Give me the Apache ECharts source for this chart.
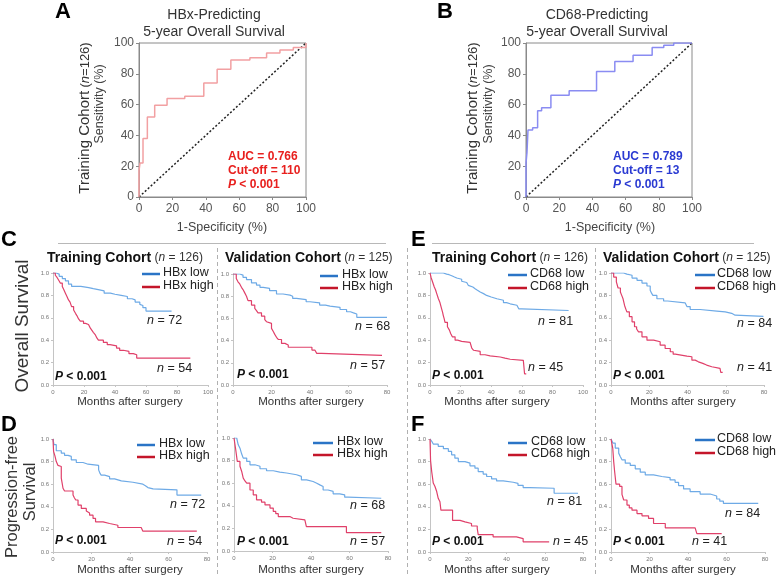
<!DOCTYPE html>
<html><head><meta charset="utf-8">
<script src="https://cdn.jsdelivr.net/npm/echarts@6/dist/echarts.min.js"></script>
<style>html,body{margin:0;padding:0;background:#fff}#c{width:777px;height:578px}</style>
</head><body><div id="c"></div>
<script>
// ---------- DATA ----------
const rocTicks = [0, 20, 40, 60, 80, 100];
const kmYTicks = [0, 0.2, 0.4, 0.6, 0.8, 1.0];
// ROC curves [1-specificity %, sensitivity %]
const rocHBx = [[0,0],[0,17],[0.6,22],[2.4,38],[5,52],[9.4,59.5],[16.8,64],[27.4,65.5],[38.8,74],[46.8,83],[55,89],[66.4,90.5],[76.4,93.5],[84.4,95.5],[92.4,97],[100,100]];
const rocCD68 = [[0,0],[0,22],[0.6,29],[1.2,43.5],[4,45],[7,56],[9.4,58],[15,66],[26,69],[42.5,81.5],[53.5,88],[64.5,92],[76,97],[83,98.5],[89,100],[100,100]];
const rocDiag = [[0,0],[100,100]];
// Kaplan-Meier curves [months, survival]
const osHBxTrainLow = [[0,1],[2,0.99],[4,0.97],[6,0.95],[8,0.93],[10,0.9],[12,0.88],[18,0.87],[23,0.86],[26,0.85],[30,0.84],[33,0.82],[37,0.81],[40,0.8],[44,0.79],[48,0.77],[51,0.76],[53,0.74],[56,0.72],[57,0.71],[58,0.69],[60,0.66],[76.5,0.66]];
const osHBxTrainHigh = [[0,1],[1.5,0.98],[2.6,0.96],[3.5,0.94],[4.7,0.91],[6,0.88],[7,0.85],[8,0.82],[9,0.79],[10,0.76],[11,0.74],[12,0.7],[13.3,0.67],[14.5,0.64],[15.4,0.62],[16.5,0.59],[17.6,0.57],[19.7,0.55],[21,0.54],[22.9,0.53],[24,0.51],[25,0.49],[26,0.47],[27.2,0.45],[28.3,0.42],[29.3,0.4],[32.5,0.38],[35,0.36],[36.8,0.35],[41,0.33],[43,0.31],[45.4,0.3],[49,0.28],[51.8,0.27],[54,0.24],[88.6,0.24]];
const osHBxValidLow = [[0,1],[3.5,0.99],[5.2,0.97],[7,0.95],[9.6,0.92],[12.2,0.9],[14,0.88],[15.7,0.87],[19,0.85],[22.6,0.82],[26,0.81],[29.6,0.8],[31,0.78],[33,0.77],[38,0.75],[40,0.74],[45,0.72],[48,0.71],[50.4,0.7],[55.6,0.68],[59,0.66],[61,0.65],[62.6,0.64],[64.3,0.61],[80,0.61]];
const osHBxValidHigh = [[0,1],[1.7,0.96],[2.6,0.93],[3.5,0.91],[4.4,0.88],[5.2,0.86],[6.1,0.83],[7,0.8],[7.8,0.76],[9.6,0.72],[11.3,0.69],[12.2,0.67],[13,0.65],[14.8,0.62],[16.5,0.59],[17.4,0.57],[18.3,0.555],[20,0.51],[21,0.48],[21.7,0.456],[22.6,0.43],[23.5,0.41],[25.2,0.375],[27,0.36],[28.7,0.34],[41,0.315],[42.5,0.3],[43.5,0.285],[46,0.267],[77.4,0.267]];
const osCDTrainLow = [[0,1],[8.7,0.99],[10.9,0.985],[12.5,0.975],[14.2,0.964],[16,0.955],[17.5,0.944],[20.7,0.926],[22,0.915],[24,0.905],[25,0.89],[26.2,0.875],[28,0.86],[29.5,0.846],[31,0.83],[32.8,0.816],[35,0.8],[37,0.786],[40,0.77],[43.7,0.757],[48,0.736],[50,0.725],[52.4,0.712],[56.8,0.697],[58,0.68],[60,0.665],[90.6,0.665]];
const osCDTrainHigh = [[0,1],[0.7,0.96],[1.7,0.92],[2.8,0.875],[3.6,0.85],[4.4,0.816],[5.5,0.77],[6.5,0.736],[7.6,0.68],[8.2,0.65],[8.7,0.62],[9.3,0.59],[9.8,0.56],[11.4,0.52],[12.7,0.49],[13.5,0.46],[14.6,0.43],[16.4,0.4],[18,0.39],[20.7,0.38],[26.2,0.37],[27.3,0.33],[28.5,0.31],[29.5,0.3],[32.8,0.27],[36,0.26],[39.3,0.25],[45.9,0.24],[49,0.23],[52.4,0.22],[61,0.21],[61.8,0.1],[62.9,0.1]];
const osCDValidLow = [[0,1],[6.6,0.99],[8.3,0.98],[11,0.955],[13.6,0.935],[16.2,0.91],[18.8,0.884],[20.5,0.846],[21.2,0.82],[21.9,0.8],[24,0.77],[27.5,0.75],[29.6,0.733],[38.8,0.72],[39.7,0.7],[41.4,0.674],[46.6,0.66],[55.3,0.653],[59.7,0.64],[63.1,0.623],[64.9,0.612],[79.7,0.612]];
const osCDValidHigh = [[0,1],[1.4,0.964],[2.8,0.92],[3.7,0.866],[4.9,0.83],[5.6,0.8],[6.3,0.77],[7.1,0.71],[7.7,0.68],[8.3,0.653],[9.6,0.61],[11,0.564],[12.3,0.52],[13.4,0.5],[14.4,0.475],[16.2,0.43],[18.8,0.4],[22.3,0.386],[25.7,0.356],[28.3,0.326],[31,0.297],[32.5,0.275],[33.6,0.258],[39.7,0.252],[42.3,0.222],[44,0.207],[45.7,0.193],[48,0.178],[50,0.163],[52.7,0.148],[57,0.142],[57.4,0.113],[58.4,0.113]];
const pfsHBxTrainLow = [[0,1],[0.5,0.95],[1.7,0.896],[4.3,0.875],[6,0.855],[7.8,0.846],[9.5,0.816],[12.1,0.792],[15.6,0.777],[18.2,0.766],[23.7,0.727],[24.3,0.7],[25,0.68],[26.8,0.667],[29.4,0.647],[32,0.63],[35.5,0.617],[41.5,0.6],[46.7,0.587],[48,0.57],[49.3,0.558],[52,0.55],[64.4,0.504],[77,0.504]];
const pfsHBxTrainHigh = [[0,1],[0.3,0.89],[1,0.85],[1.7,0.8],[2.6,0.766],[3.5,0.757],[4.3,0.653],[5.2,0.564],[6,0.54],[10.4,0.504],[11.1,0.48],[11.8,0.46],[13,0.415],[14.7,0.386],[17.3,0.362],[18.2,0.345],[19,0.326],[20.8,0.297],[22.1,0.267],[26,0.252],[29.4,0.237],[33.7,0.217],[45.8,0.208],[46.7,0.184],[74.7,0.184]];
const pfsHBxValidLow = [[0,1],[1.4,0.985],[2.2,0.94],[3.1,0.91],[4,0.858],[4.8,0.822],[6.6,0.793],[8.3,0.763],[10.9,0.75],[13.5,0.728],[16.9,0.71],[20.4,0.698],[23.8,0.69],[27.3,0.675],[32.5,0.66],[35,0.63],[37.7,0.615],[41.1,0.6],[43,0.585],[44.6,0.57],[46.3,0.54],[48.9,0.527],[51.5,0.506],[54.9,0.497],[57.5,0.476],[59.2,0.467],[76.5,0.467]];
const pfsHBxValidHigh = [[0,1],[0.9,0.896],[1.7,0.793],[3.1,0.75],[4,0.704],[4.8,0.645],[5.7,0.62],[6.6,0.6],[8.3,0.54],[10,0.497],[11.7,0.453],[14.3,0.432],[16.1,0.408],[18.7,0.38],[20.4,0.35],[21.7,0.33],[23,0.305],[29,0.29],[30.7,0.275],[36.8,0.26],[37.6,0.216],[58.4,0.163],[76.5,0.163]];
const pfsCDTrainLow = [[0,1],[0.9,0.98],[1.7,0.955],[4.3,0.935],[7,0.914],[9.6,0.89],[11.3,0.86],[13,0.83],[14.8,0.8],[18.3,0.786],[20.9,0.763],[23.5,0.742],[25.2,0.712],[27.8,0.69],[29.6,0.668],[32.2,0.647],[34.8,0.629],[38.3,0.617],[43.5,0.608],[46,0.59],[48.7,0.57],[52.2,0.564],[64.9,0.52],[77.4,0.52]];
const pfsCDTrainHigh = [[0,1],[0.3,0.81],[0.9,0.71],[1.7,0.61],[2.6,0.58],[3.5,0.535],[4.3,0.475],[5.2,0.445],[5.7,0.37],[11.8,0.28],[15.7,0.267],[18.3,0.252],[21.7,0.23],[24.7,0.208],[25.2,0.154],[33,0.134],[45.2,0.119],[48.7,0.09],[62.3,0.09]];
const pfsCDValidLow = [[0,1],[1,0.964],[2.2,0.92],[4,0.875],[4.8,0.846],[5.7,0.816],[7.4,0.786],[10,0.766],[12.6,0.736],[15.2,0.706],[17.8,0.682],[22.1,0.668],[26.4,0.659],[30.7,0.638],[33.3,0.617],[35.1,0.588],[37.7,0.558],[41.1,0.534],[46.3,0.513],[51.5,0.496],[54.9,0.469],[56.5,0.45],[58.4,0.43],[76.5,0.43]];
const pfsCDValidHigh = [[0,1],[0.9,0.92],[1.4,0.8],[1.9,0.71],[2.6,0.6],[4.5,0.58],[5.7,0.51],[6.6,0.46],[8.3,0.415],[9.5,0.39],[10.9,0.37],[13.5,0.34],[16.1,0.32],[19.5,0.297],[22.1,0.252],[28.2,0.214],[43.7,0.2],[44.6,0.163],[57.5,0.163]];

// ---------- LAYOUT ----------
const FONT = '"Liberation Sans", Arial, Helvetica, sans-serif';
const KM_BLUE = '#6eaae6', KM_RED = '#e0406a', LG_BLUE = '#2a74c6', LG_RED = '#c4162a';
const kmPanels = [
  {g:{left:53, top:273, width:155, height:112}, max:100, low:osHBxTrainLow, high:osHBxTrainHigh},
  {g:{left:233, top:274, width:154, height:111}, max:80, low:osHBxValidLow, high:osHBxValidHigh},
  {g:{left:430, top:273, width:153, height:112}, max:100, low:osCDTrainLow, high:osCDTrainHigh},
  {g:{left:611, top:273, width:153, height:112}, max:80, low:osCDValidLow, high:osCDValidHigh},
  {g:{left:53, top:439, width:154, height:113}, max:80, low:pfsHBxTrainLow, high:pfsHBxTrainHigh},
  {g:{left:234, top:438, width:154, height:113}, max:80, low:pfsHBxValidLow, high:pfsHBxValidHigh},
  {g:{left:430, top:439, width:153, height:113}, max:80, low:pfsCDTrainLow, high:pfsCDTrainHigh},
  {g:{left:611, top:439, width:154, height:113}, max:80, low:pfsCDValidLow, high:pfsCDValidHigh}
];
const rocPanels = [
  {g:{left:139, top:43, width:167, height:154}, data:rocHBx, color:'#f2a0a2'},
  {g:{left:526, top:43, width:166, height:154}, data:rocCD68, color:'#8a8cf2'}
];

const grids = [], xAxes = [], yAxes = [], series = [];
rocPanels.forEach((p, i) => {
  grids.push(Object.assign({show:true, borderColor:'#8a8a8a', borderWidth:1, backgroundColor:'transparent'}, p.g));
  xAxes.push({type:'value', gridIndex:i, min:0, max:100, interval:20,
    axisLine:{lineStyle:{color:'#8a8a8a'}}, axisTick:{length:3, lineStyle:{color:'#8a8a8a'}},
    axisLabel:{fontSize:12, color:'#555', margin:6, fontFamily:FONT}, splitLine:{show:false}});
  yAxes.push({type:'value', gridIndex:i, min:0, max:100, interval:20,
    axisLine:{lineStyle:{color:'#8a8a8a'}}, axisTick:{length:3, lineStyle:{color:'#8a8a8a'}},
    axisLabel:{fontSize:12, color:'#555', margin:5, fontFamily:FONT}, splitLine:{show:false}});
  series.push({type:'line', xAxisIndex:i, yAxisIndex:i, data:rocDiag, symbol:'none', silent:true,
    lineStyle:{color:'#222', width:1.5, type:[2,2]}});
  series.push({type:'line', xAxisIndex:i, yAxisIndex:i, data:p.data, step:'end', symbol:'none', silent:true,
    lineStyle:{color:p.color, width:1.5}});
});
kmPanels.forEach((p, k) => {
  const i = k + 2;
  grids.push(Object.assign({show:false}, p.g));
  xAxes.push({type:'value', gridIndex:i, min:0, max:p.max, interval:20,
    axisLine:{lineStyle:{color:'#c4c4c4'}}, axisTick:{length:2, lineStyle:{color:'#c4c4c4'}},
    axisLabel:{fontSize:6, color:'#777', margin:4, fontFamily:FONT}, splitLine:{show:false}});
  yAxes.push({type:'value', gridIndex:i, min:0, max:1, interval:0.2,
    axisLine:{show:true, lineStyle:{color:'#c4c4c4'}}, axisTick:{show:true, length:2, lineStyle:{color:'#c4c4c4'}},
    axisLabel:{fontSize:6, color:'#777', margin:4, fontFamily:FONT, formatter:v => v.toFixed(1)}, splitLine:{show:false}});
  series.push({type:'line', xAxisIndex:i, yAxisIndex:i, data:p.low, step:'end', symbol:'none', silent:true,
    lineStyle:{color:KM_BLUE, width:1.2}});
  series.push({type:'line', xAxisIndex:i, yAxisIndex:i, data:p.high, step:'end', symbol:'none', silent:true,
    lineStyle:{color:KM_RED, width:1.2}});
});

// ---------- TEXT / DECOR ----------
const G = [];
function txt(x, y, text, o) {
  o = o || {};
  G.push({type:'text', x, y, rotation:o.rot || 0, silent:true, style:{
    text, fill:o.fill || '#222', fontFamily:FONT, fontSize:o.size || 12, fontWeight:o.bold ? 'bold' : 'normal',
    fontStyle:o.italic ? 'italic' : 'normal',
    align:o.align || 'left', verticalAlign:'middle', rich:o.rich}});
}
function line(x1, y1, x2, y2, o) {
  o = o || {};
  G.push({type:'line', silent:true, shape:{x1, y1, x2, y2}, style:{stroke:o.color || '#aaa', lineWidth:o.w || 1, lineDash:o.dash || null}});
}
// panel letters
txt(55, 12, 'A', {size:22, bold:true, fill:'#000'});
txt(437, 12, 'B', {size:22, bold:true, fill:'#000'});
txt(1, 240, 'C', {size:22, bold:true, fill:'#000'});
txt(1, 425, 'D', {size:22, bold:true, fill:'#000'});
txt(411, 240, 'E', {size:22, bold:true, fill:'#000'});
txt(411, 425, 'F', {size:22, bold:true, fill:'#000'});
// ROC titles & labels
const rocTxt = [
  {cx:214, t1:'HBx-Predicting', ylab:85, slab:100, xlabC:222, col:'#e8201e', auc:'AUC = 0.766', cut:'Cut-off = 110', ax:228},
  {cx:597, t1:'CD68-Predicting', ylab:473, slab:489, xlabC:610, col:'#2a3ad2', auc:'AUC = 0.789', cut:'Cut-off = 13', ax:613}
];
rocTxt.forEach(r => {
  txt(r.cx, 15, r.t1, {size:14, align:'center', fill:'#333'});
  txt(r.cx, 32, '5-year Overall Survival', {size:14, align:'center', fill:'#333'});
  txt(r.ylab, 118, '{a|Training Cohort} {b|(}{c|n}{b|=126)}', {rot:Math.PI/2, align:'center', fill:'#333',
    rich:{a:{fontSize:15, fontFamily:FONT, fill:'#333'}, b:{fontSize:13, fontFamily:FONT, fill:'#333'}, c:{fontSize:13, fontStyle:'italic', fontFamily:FONT, fill:'#333'}}});
  txt(r.slab, 104, 'Sensitivity (%)', {rot:Math.PI/2, align:'center', size:12.5, fill:'#444'});
  txt(r.xlabC, 228, '1-Specificity (%)', {size:12.5, align:'center', fill:'#444'});
  txt(r.ax, 157, r.auc, {size:12, bold:true, fill:r.col});
  txt(r.ax, 171, r.cut, {size:12, bold:true, fill:r.col});
  txt(r.ax, 185, '{i|P} < 0.001', {size:12, bold:true, fill:r.col,
    rich:{i:{fontStyle:'italic', fontWeight:'bold', fontSize:12, fontFamily:FONT, fill:r.col}}});
});
// separators
line(58, 243.5, 386, 243.5, {color:'#b8b8b8'});
line(432, 243.5, 754, 243.5, {color:'#b8b8b8'});
[217.5, 407.5, 595.5].forEach(x => line(x, 248, x, 576, {color:'#b0b0b0', dash:[4,3]}));
// KM headers
const hdrRich = {b:{fontSize:14, fontWeight:'bold', fontFamily:FONT, fill:'#111'}, s:{fontSize:12, fontFamily:FONT, fill:'#333'}, si:{fontSize:12, fontStyle:'italic', fontFamily:FONT, fill:'#333'}};
txt(47, 258, '{b|Training Cohort} {s|(}{si|n}{s| = 126)}', {rich:hdrRich});
txt(225, 258, '{b|Validation Cohort} {s|(}{si|n}{s| = 125)}', {rich:hdrRich});
txt(432, 258, '{b|Training Cohort} {s|(}{si|n}{s| = 126)}', {rich:hdrRich});
txt(603, 258, '{b|Validation Cohort} {s|(}{si|n}{s| = 125)}', {rich:hdrRich});
// y titles
txt(23, 326, 'Overall Survival', {rot:Math.PI/2, align:'center', size:19, fill:'#333'});
txt(12, 497, 'Progression-free', {rot:Math.PI/2, align:'center', size:16.5, fill:'#333'});
txt(30, 492, 'Survival', {rot:Math.PI/2, align:'center', size:16.5, fill:'#333'});
// legends, n labels, P labels, x titles
const kmTxt = [
  {lx:[142,160], tx:163, ly:[274,287], lab:'HBx', n1:[147,321,'72'], n2:[157,369,'54'], p:[55,377], mx:[130,402]},
  {lx:[320,338], tx:342, ly:[276,288], lab:'HBx', n1:[355,327,'68'], n2:[350,366,'57'], p:[237,375], mx:[311,402]},
  {lx:[508,527], tx:530, ly:[275,288], lab:'CD68', n1:[538,322,'81'], n2:[528,368,'45'], p:[432,376], mx:[497,402]},
  {lx:[695,715], tx:717, ly:[275,288], lab:'CD68', n1:[737,324,'84'], n2:[737,368,'41'], p:[613,376], mx:[683,402]},
  {lx:[137,155], tx:159, ly:[445,457], lab:'HBx', n1:[170,505,'72'], n2:[167,542,'54'], p:[55,541], mx:[130,570]},
  {lx:[313,333], tx:337, ly:[443,455], lab:'HBx', n1:[350,506,'68'], n2:[350,542,'57'], p:[237,542], mx:[311,570]},
  {lx:[508,527], tx:531, ly:[443,455], lab:'CD68', n1:[547,502,'81'], n2:[553,542,'45'], p:[432,542], mx:[497,570]},
  {lx:[695,715], tx:717, ly:[440,453], lab:'CD68', n1:[725,514,'84'], n2:[692,542,'41'], p:[613,542], mx:[683,570]}
];
const nRich = {i:{fontStyle:'italic', fontSize:12.5, fontFamily:FONT, fill:'#222'}};
const pRich = {i:{fontStyle:'italic', fontWeight:'bold', fontSize:12, fontFamily:FONT, fill:'#111'}};
kmTxt.forEach(k => {
  line(k.lx[0], k.ly[0], k.lx[1], k.ly[0], {color:LG_BLUE, w:2.5});
  line(k.lx[0], k.ly[1], k.lx[1], k.ly[1], {color:LG_RED, w:2.5});
  txt(k.tx, k.ly[0] - 1, k.lab + ' low', {size:12.5, fill:'#222'});
  txt(k.tx, k.ly[1] - 1, k.lab + ' high', {size:12.5, fill:'#222'});
  txt(k.n1[0], k.n1[1], '{i|n} = ' + k.n1[2], {size:12.5, fill:'#222', rich:nRich});
  txt(k.n2[0], k.n2[1], '{i|n} = ' + k.n2[2], {size:12.5, fill:'#222', rich:nRich});
  txt(k.p[0], k.p[1], '{i|P} < 0.001', {size:12, bold:true, fill:'#111', rich:pRich});
  txt(k.mx[0], k.mx[1], 'Months after surgery', {size:11.5, align:'center', fill:'#333'});
});

const chart = echarts.init(document.getElementById('c'), null, {renderer:'canvas'});
chart.setOption({animation:false, backgroundColor:'#fff', grid:grids, xAxis:xAxes, yAxis:yAxes, series, graphic:G});
</script></body></html>
